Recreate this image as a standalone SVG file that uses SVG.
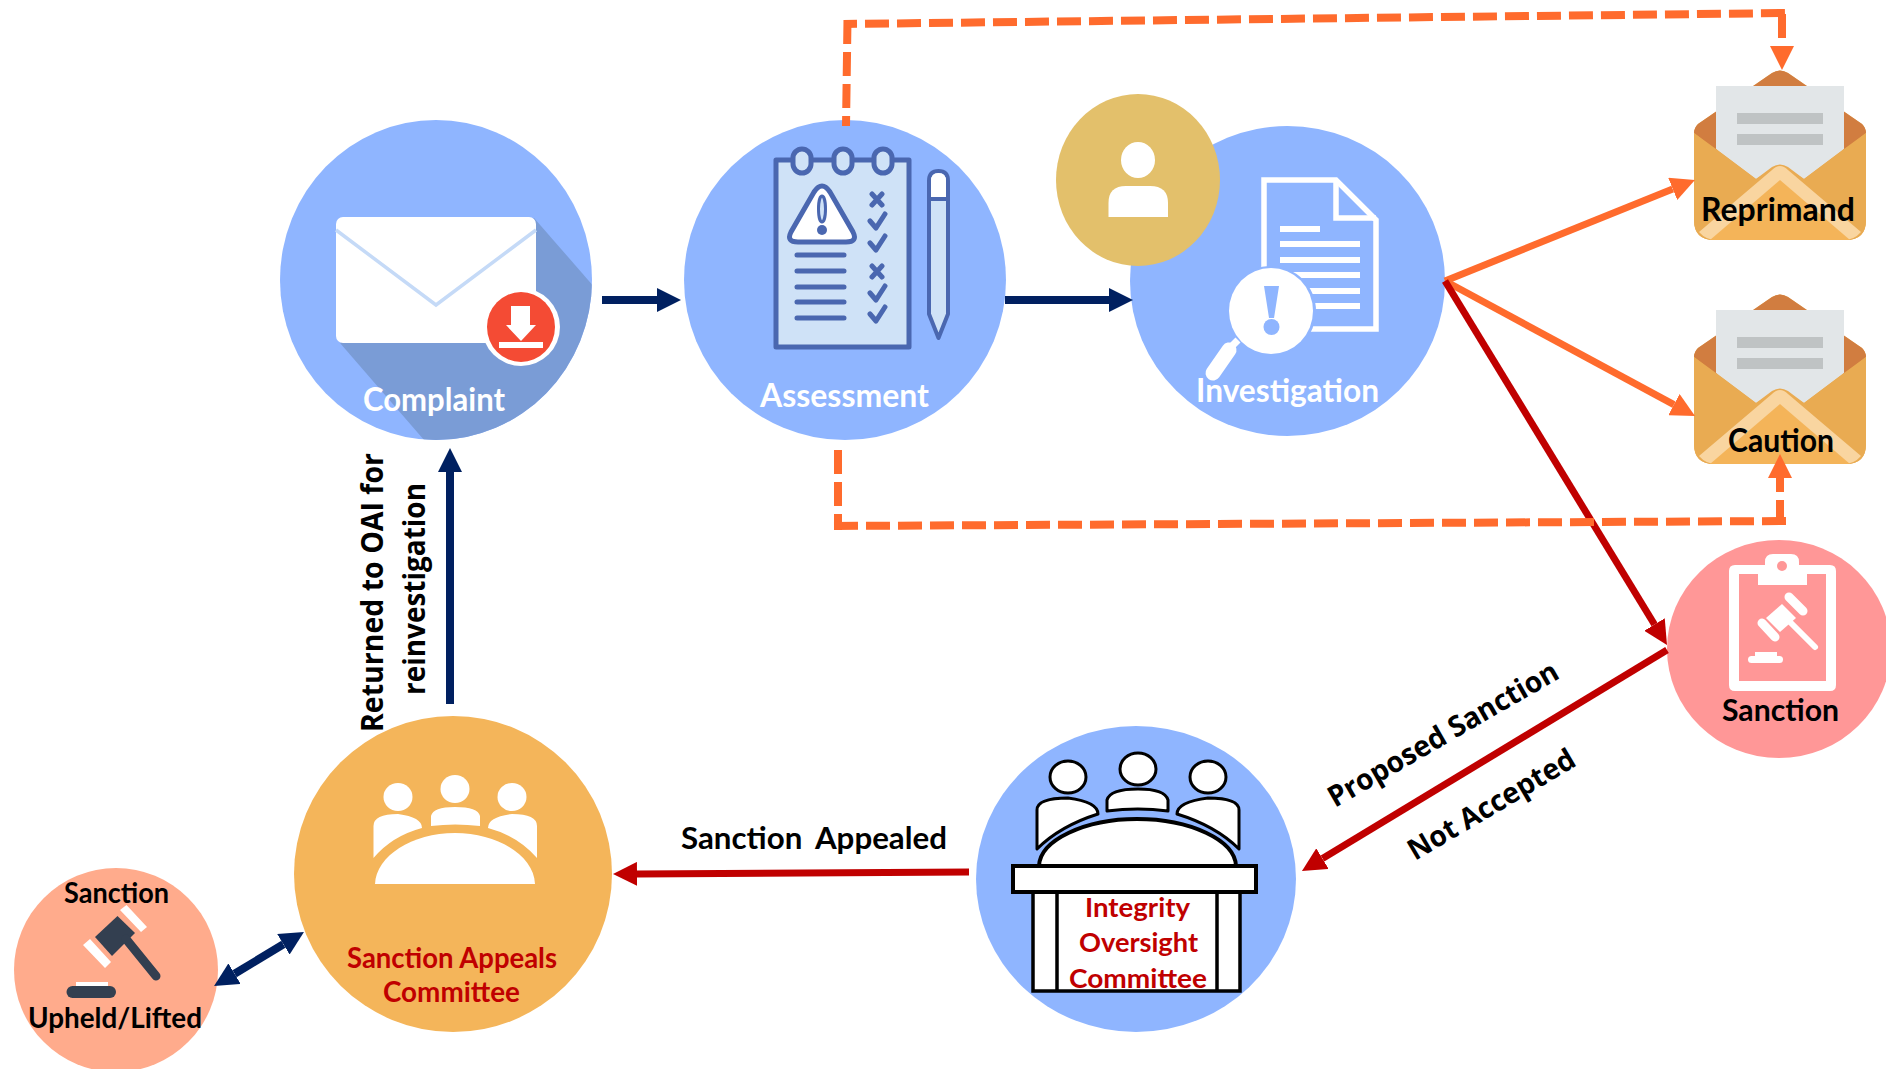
<svg xmlns="http://www.w3.org/2000/svg" xmlns:xlink="http://www.w3.org/1999/xlink" width="1886" height="1069" viewBox="0 0 1886 1069">
<style>
text{font-family:"Lato","Carlito","Liberation Sans",sans-serif;font-weight:700}
.os{font-family:"Open Sans","Liberation Sans",sans-serif}
.w{fill:#fff}.k{fill:#000}.r{fill:#C00000}
.blue{fill:#8FB5FF}
.dash{fill:none;stroke:#FF6B2D;stroke-width:8;stroke-dasharray:24 8}
.nav{fill:none;stroke:#002060;stroke-width:8}
.org{fill:none;stroke:#FF6B2D;stroke-width:7}
.red{fill:none;stroke:#C00000;stroke-width:7}
.nb{fill:none;stroke:#4A67B0;stroke-width:5;stroke-linecap:round;stroke-linejoin:round}
.ol{fill:#fff;stroke:#000;stroke-width:3;stroke-linejoin:round}
</style>
<defs>
<marker id="hn" markerUnits="userSpaceOnUse" markerWidth="24" markerHeight="24" refX="0" refY="12" orient="auto-start-reverse"><path d="M0 0L24 12L0 24Z" fill="#002060"/></marker>
<marker id="ho" markerUnits="userSpaceOnUse" markerWidth="24" markerHeight="24" refX="0" refY="12" orient="auto"><path d="M0 0L24 12L0 24Z" fill="#FF6B2D"/></marker>
<marker id="hr" markerUnits="userSpaceOnUse" markerWidth="24" markerHeight="24" refX="0" refY="12" orient="auto"><path d="M0 0L24 12L0 24Z" fill="#C00000"/></marker>
<clipPath id="cc"><ellipse cx="436" cy="280" rx="156" ry="160"/></clipPath>
<g id="env">
<path d="M0 63Q0 58 4 54L78 3Q86 -2 94 3L168 54Q172 58 172 63V150Q172 170 152 170H20Q0 170 0 150Z" fill="#E9AB52"/>
<path d="M0 63Q0 58 4 54L78 3Q86 -2 94 3L168 54Q172 58 172 63L150 80H22Z" fill="#D17D40"/>
<path d="M22 16H150V79L110 109L94 99Q86 94 78 99L62 109L22 79Z" fill="#E2E6E8"/>
<rect x="43" y="43" width="86" height="11" fill="#BFC3C4"/>
<rect x="43" y="64" width="86" height="11" fill="#BFC3C4"/>
<path d="M0 63L22 79L62 109L78 97Q86 92 94 97L110 109L150 79L172 63V150Q172 170 152 170H20Q0 170 0 150Z" fill="#E9AB52"/>
<path d="M5 162L78 100Q86 92 94 100L167 162Q160 170 150 170H22Q12 170 5 162Z" fill="#F9D5A0"/>
<path d="M16 170L86 110L156 170Z" fill="#F4B459"/>
</g>
</defs>
<rect width="1886" height="1069" fill="#fff"/>

<g id="node-complaint">
<ellipse class="blue" cx="436" cy="280" rx="156" ry="160"/>
<path clip-path="url(#cc)" d="M534 218L610 305V470H450L340 343Z" fill="#7A9CD6"/>
<rect x="336" y="217" width="200" height="126" rx="7" fill="#fff"/>
<path d="M336 230L436 305L536 230" fill="none" stroke="#C5DAF7" stroke-width="3.500"/>
<ellipse cx="521" cy="327" rx="39" ry="39" fill="#fff"/>
<ellipse cx="521" cy="327" rx="34" ry="35" fill="#F44B34"/>
<path d="M511 306H530V325H536L521 341L506 325H511Z" fill="#fff"/>
<rect x="499" y="342" width="44" height="6" fill="#fff"/>
<text class="w" x="363" y="411" font-size="32" textLength="142" lengthAdjust="spacingAndGlyphs">Complaint</text>
</g>

<g id="node-assessment">
<ellipse class="blue" cx="845" cy="280" rx="161" ry="160"/>
<rect x="776" y="160" width="133" height="187" fill="#CFE2F7" stroke="#4A67B0" stroke-width="5" stroke-linejoin="round"/>
<rect x="793" y="149" width="18" height="24" rx="9" fill="#CFE2F7" stroke="#4A67B0" stroke-width="5"/>
<rect x="834" y="149" width="18" height="24" rx="9" fill="#CFE2F7" stroke="#4A67B0" stroke-width="5"/>
<rect x="874" y="149" width="18" height="24" rx="9" fill="#CFE2F7" stroke="#4A67B0" stroke-width="5"/>
<path d="M814 192Q822 180 830 192L853 232Q858 242 846 242H798Q786 242 791 232Z" fill="#fff" stroke="#4A67B0" stroke-width="5"/>
<ellipse cx="822" cy="209" rx="3.500" ry="13" fill="#CFE2F7" stroke="#4A67B0" stroke-width="3"/>
<circle cx="822" cy="230" r="5" fill="#4A67B0"/>
<path class="nb" d="M797 255H844M797 271H844M797 287H844M797 302H844M797 318H844"/>
<path class="nb" d="M872 194L882 205M882 194L872 205M872 266L882 277M882 266L872 277"/>
<path class="nb" d="M870 221L876 228L885 214M870 243L876 250L885 236M870 293L876 300L885 286M870 314L876 321L885 307"/>
<path d="M929 181Q929 171 938.500 171Q948 171 948 181V314L938.500 338L929 314Z" fill="#CFE2F7" stroke="#4A67B0" stroke-width="4" stroke-linejoin="round"/>
<path d="M931 181Q931 173 938.500 173Q946 173 946 181V197H931Z" fill="#fff"/>
<path d="M929 199H948" stroke="#4A67B0" stroke-width="4"/>
<text class="w" x="760" y="407" font-size="32" textLength="169" lengthAdjust="spacingAndGlyphs">Assessment</text>
</g>

<g id="node-investigation">
<ellipse class="blue" cx="1287.500" cy="281" rx="157.500" ry="155"/>
<path d="M1264 270V180H1336L1376 220V329H1300" fill="none" stroke="#fff" stroke-width="5.500"/>
<path d="M1336 180V218H1376" fill="none" stroke="#fff" stroke-width="5.500"/>
<rect x="1280" y="226" width="40" height="6" fill="#fff"/>
<rect x="1280" y="241" width="80" height="6" fill="#fff"/>
<rect x="1280" y="257" width="80" height="6" fill="#fff"/>
<rect x="1280" y="272" width="80" height="6" fill="#fff"/>
<rect x="1280" y="288" width="80" height="6" fill="#fff"/>
<rect x="1280" y="303" width="80" height="6" fill="#fff"/>
<ellipse cx="1271" cy="311" rx="45" ry="45" fill="#8FB5FF"/>
<ellipse cx="1271" cy="311" rx="42" ry="43" fill="#fff"/>
<path d="M1238 340L1226 352" stroke="#fff" stroke-width="7"/>
<path d="M1229 350L1213 373" stroke="#fff" stroke-width="15" stroke-linecap="round"/>
<path d="M1264 286H1279L1274 318H1269Z" fill="#8FB5FF"/>
<circle cx="1271.500" cy="327" r="8" fill="#8FB5FF"/>
<text class="w" x="1196" y="402" font-size="32" textLength="183" lengthAdjust="spacingAndGlyphs">Investigation</text>
</g>

<g id="node-person">
<ellipse cx="1138" cy="180" rx="82" ry="86" fill="#E3C06B"/>
<ellipse cx="1138" cy="160" rx="17" ry="18" fill="#fff"/>
<path d="M1108.500 217V203Q1108.500 186 1126 186H1150Q1168 186 1168 203V217Z" fill="#fff"/>
</g>

<g id="node-reprimand">
<use href="#env" xlink:href="#env" x="1694" y="70"/>
<text class="k" x="1701" y="221" font-size="32" textLength="154" lengthAdjust="spacingAndGlyphs">Reprimand</text>
</g>

<g id="node-caution">
<use href="#env" xlink:href="#env" x="1694" y="294"/>
<text class="k" x="1728" y="452" font-size="32" textLength="106" lengthAdjust="spacingAndGlyphs">Caution</text>
</g>

<g id="node-sanction">
<ellipse cx="1779" cy="649" rx="112" ry="109" fill="#FF9797"/>
<path fill-rule="evenodd" d="M1735 565H1765V562Q1765 554 1773 554H1791Q1799 554 1799 562V565H1830Q1836 565 1836 571V685Q1836 691 1830 691H1735Q1729 691 1729 685V571Q1729 565 1735 565ZM1739 574V681H1826V574H1807V585H1758V574Z" fill="#fff"/>
<circle cx="1782" cy="566" r="5" fill="#FF9797"/>
<path d="M1796 618L1782 604L1766 618L1780 632Z" fill="#fff"/>
<path d="M1789 597L1803 611M1762 623L1775 637" stroke="#fff" stroke-width="9" stroke-linecap="round"/>
<path d="M1790 622L1815 647" stroke="#fff" stroke-width="6" stroke-linecap="round"/>
<rect x="1748" y="656" width="35" height="7" rx="3.500" fill="#fff"/>
<rect x="1755" y="652" width="22" height="5" fill="#fff"/>
<text class="k" x="1722" y="721" font-size="30" textLength="117" lengthAdjust="spacingAndGlyphs">Sanction</text>
</g>

<g id="node-committee">
<ellipse class="blue" cx="1136" cy="879" rx="160" ry="153"/>
<ellipse class="ol" cx="1068" cy="777" rx="18" ry="16"/>
<ellipse class="ol" cx="1138" cy="769" rx="18" ry="16"/>
<ellipse class="ol" cx="1208" cy="777" rx="18" ry="16"/>
<path class="ol" d="M1037 849V810Q1037 798 1068 798Q1098 802 1098 814Q1060 826 1037 849Z"/>
<path class="ol" d="M1107 811V800Q1110 789 1138 789Q1165 789 1168 800V811Q1138 807 1107 811Z"/>
<path class="ol" d="M1239 849V810Q1239 798 1208 798Q1177 802 1177 814Q1216 826 1239 849Z"/>
<path d="M1039 866C1040 840 1085 819 1137 819C1190 819 1235 840 1236 866Z" fill="#fff" stroke="#000" stroke-width="4"/>
<rect x="1033" y="892" width="207" height="99" fill="#fff" stroke="#000" stroke-width="3.500"/>
<path d="M1057 892V991M1217 892V991" stroke="#000" stroke-width="3.500"/>
<rect x="1013" y="866" width="243" height="26" fill="#fff" stroke="#000" stroke-width="4"/>
<text class="r" x="1085" y="917" font-size="27" textLength="105" lengthAdjust="spacingAndGlyphs">Integrity</text>
<text class="r" x="1079" y="952" font-size="27" textLength="119" lengthAdjust="spacingAndGlyphs">Oversight</text>
<text class="r" x="1069" y="988" font-size="27" textLength="138" lengthAdjust="spacingAndGlyphs">Committee</text>
</g>

<g id="node-appeals">
<ellipse cx="453" cy="874" rx="159" ry="158" fill="#F4B55A"/>
<ellipse cx="398" cy="797" rx="14.500" ry="14" fill="#fff"/>
<ellipse cx="455" cy="789" rx="14.500" ry="14" fill="#fff"/>
<ellipse cx="512" cy="797" rx="14.500" ry="14" fill="#fff"/>
<path d="M373.500 858V826Q373.500 814 398 814Q422 817 422 828Q392 836 373.500 858Z" fill="#fff"/>
<path d="M431 826V816Q433 807 455 807Q478 807 480 816V826Q455 823 431 826Z" fill="#fff"/>
<path d="M537 858V826Q537 814 512 814Q488 817 488 828Q518 836 537 858Z" fill="#fff"/>
<path d="M375 884C376 856 412 833 455 833C498 833 534 856 535 884Z" fill="#fff"/>
<text class="r" x="347" y="968" font-size="29" textLength="210" lengthAdjust="spacingAndGlyphs">Sanction Appeals</text>
<text class="r" x="383" y="1002" font-size="29" textLength="137" lengthAdjust="spacingAndGlyphs">Committee</text>
</g>

<g id="node-upheld">
<ellipse cx="116" cy="970" rx="102" ry="102" fill="#FFAB8C"/>
<path d="M117.500 916L135 933L112 956L95 937Z" fill="#333F50"/>
<path d="M120 910L126.500 905L147 927L141 932ZM83 945L90 939L111 962L105 968Z" fill="#fff"/>
<path d="M126 939L156 976" stroke="#333F50" stroke-width="9" stroke-linecap="round"/>
<rect x="76" y="982" width="32" height="5" fill="#fff"/>
<rect x="66.500" y="986" width="49.500" height="12" rx="6" fill="#333F50"/>
<text class="k" x="64" y="903" font-size="28" textLength="105" lengthAdjust="spacingAndGlyphs">Sanction</text>
<text class="k" x="28" y="1028" font-size="28" textLength="174" lengthAdjust="spacingAndGlyphs">Upheld/Lifted</text>
</g>

<g id="connectors">
<path class="nav" d="M602 300H657" marker-end="url(#hn)"/>
<path class="nav" d="M1005 300H1109" marker-end="url(#hn)"/>
<path class="nav" d="M450 704V472" marker-end="url(#hn)"/>
<path class="nav" d="M234.600 973.700L283.400 944.300" marker-start="url(#hn)" marker-end="url(#hn)"/>
<path class="org" d="M1445 281L1672.700 188.900" marker-end="url(#ho)"/>
<path class="org" d="M1445 281L1673.900 404.600" marker-end="url(#ho)"/>
<path class="red" d="M1445 281L1654.500 624.500" marker-end="url(#hr)"/>
<path class="red" d="M1667 650L1322.500 858.600" marker-end="url(#hr)"/>
<path class="red" d="M969 872L637 873.900" stroke-width="8" marker-end="url(#hr)"/>
<path class="dash" d="M846 126L847.500 20" stroke-dashoffset="14"/>
<path class="dash" d="M844 24L1786 13" stroke-dashoffset="11"/>
<path class="org" d="M1782 14V38" style="stroke-width:8"/>
<path d="M1770 46H1794L1782 70Z" fill="#FF6B2D"/>
<path class="dash" d="M838 450V530"/>
<path class="dash" d="M834 526L1786 521"/>
<path class="org" d="M1780 525V500M1780 492V478" style="stroke-width:8"/>
<path d="M1768 478H1792L1780 454Z" fill="#FF6B2D"/>
</g>

<g id="labels">
<text class="k" x="681" y="849" font-size="31" word-spacing="6" textLength="266" lengthAdjust="spacingAndGlyphs">Sanction Appealed</text>
<text class="k os" transform="translate(383 732) rotate(-90)" font-size="31" textLength="279" lengthAdjust="spacingAndGlyphs">Returned to OAI for</text>
<text class="k os" transform="translate(425 695) rotate(-90)" font-size="31" textLength="212" lengthAdjust="spacingAndGlyphs">reinvestigation</text>
<text class="k os" transform="translate(1335 808) rotate(-30)" font-size="29" textLength="261" lengthAdjust="spacingAndGlyphs">Proposed Sanction</text>
<text class="k os" transform="translate(1415 861) rotate(-30.500)" font-size="29" textLength="189" lengthAdjust="spacingAndGlyphs">Not Accepted</text>
</g>
</svg>
